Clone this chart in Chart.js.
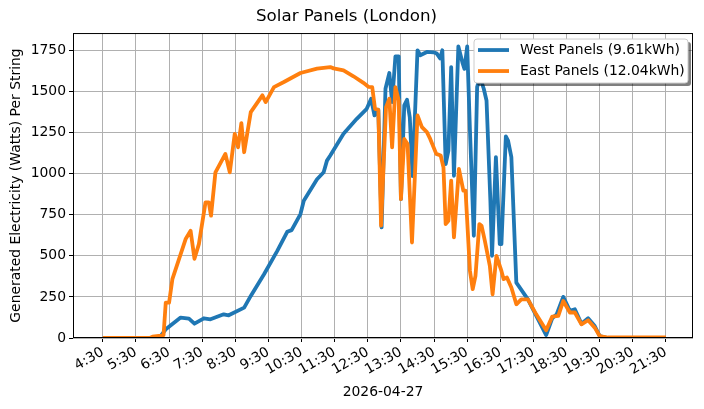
<!DOCTYPE html>
<html>
<head>
<meta charset="utf-8">
<script src="https://cdn.jsdelivr.net/npm/chart.js@4"></script>
<style>
html, body { margin: 0; padding: 0; background: #fff; }
</style>
</head>
<body>
<canvas id="grafico" width="704" height="409"></canvas>
<script>
// readings, time of day -> watts
const westTimes = ['4:30', '6:12', '6:24', '6:51', '7:06', '7:16', '7:33', '7:45', '8:09', '8:18', '8:46', '8:58',
    '9:22', '9:46', '10:04', '10:12', '10:28', '10:34', '10:58', '11:10', '11:16', '11:22', '11:46', '12:10',
    '12:28', '12:36', '12:42', '12:49', '12:55', '13:02', '13:09', '13:14', '13:20', '13:26', '13:30', '13:36',
    '13:41', '13:46', '13:51', '14:00', '14:05', '14:17', '14:29', '14:35', '14:41', '14:45', '14:51', '14:56',
    '15:01', '15:06', '15:14', '15:22', '15:25', '15:30', '15:35', '15:42', '15:48', '15:53', '16:00', '16:05',
    '16:12', '16:15', '16:22', '16:29', '16:32', '16:40', '16:44', '16:50', '16:59', '17:20', '17:53', '18:04',
    '18:12', '18:24', '18:36', '18:45', '18:57', '19:09', '19:21', '19:30', '19:45', '21:30'];
const westWatts = [0, 0, 53, 124, 118, 87, 120, 114, 144, 138, 185, 256,
    388, 530, 646, 656, 754, 835, 966, 1008, 1079, 1110, 1242, 1333,
    1394, 1455, 1354, 1388, 673, 1516, 1612, 1435, 1713, 1713, 845, 1415,
    1449, 1343, 985, 1750, 1720, 1740, 1738, 1730, 1700, 1750, 1058, 1140,
    1648, 987, 1774, 1668, 1637, 1774, 1262, 622, 1526, 1587, 1516, 1445,
    835, 500, 1100, 571, 571, 1226, 1200, 1100, 337, 235, 18, 120,
    144, 250, 165, 175, 87, 120, 73, 12, 0, 0];

const eastTimes = ['4:30', '5:55', '6:00', '6:15', '6:20', '6:24', '6:30', '6:36', '7:00', '7:09', '7:16', '7:24',
    '7:36', '7:42', '7:46', '7:54', '8:12', '8:20', '8:29', '8:35', '8:41', '8:46', '8:58', '9:19',
    '9:25', '9:40', '9:58', '10:28', '10:58', '11:22', '11:28', '11:46', '12:04', '12:22', '12:31', '12:38',
    '12:43', '12:49', '12:54', '13:03', '13:09', '13:14', '13:20', '13:26', '13:30', '13:36', '13:42', '13:50',
    '14:00', '14:08', '14:17', '14:23', '14:34', '14:42', '14:47', '14:51', '14:56', '15:01', '15:06', '15:15',
    '15:23', '15:27', '15:35', '15:40', '15:45', '15:52', '15:56', '16:02', '16:11', '16:16', '16:23', '16:32',
    '16:36', '16:42', '16:50', '16:59', '17:08', '17:20', '17:35', '17:53', '18:04', '18:15', '18:24', '18:36',
    '18:45', '18:57', '19:09', '19:21', '19:30', '19:45', '21:30'];
const eastWatts = [0, 0, 8, 15, 18, 215, 215, 358, 602, 652, 482, 571,
    825, 825, 744, 1008, 1120, 1008, 1242, 1160, 1307, 1130, 1374, 1476,
    1435, 1526, 1557, 1612, 1638, 1648, 1640, 1628, 1592, 1552, 1528, 1526,
    1394, 1388, 683, 1404, 1455, 1160, 1526, 1445, 845, 1211, 1180, 581,
    1354, 1283, 1252, 1211, 1120, 1110, 1039, 693, 713, 957, 612, 1028,
    896, 896, 408, 297, 378, 693, 683, 591, 439, 266, 500, 408,
    358, 368, 307, 205, 235, 235, 144, 47, 130, 134, 225, 155,
    155, 83, 108, 63, 12, 3, 3];

const xTickLabels = ['4:30', '5:30', '6:30', '7:30', '8:30', '9:30', '10:30', '11:30', '12:30',
    '13:30', '14:30', '15:30', '16:30', '17:30', '18:30', '19:30', '20:30', '21:30'];
const yTickValues = [0, 250, 500, 750, 1000, 1250, 1500, 1750];

const FONT = 'DejaVu Sans';

function toMinutes(s) {
    const p = s.split(':');
    return Number(p[0]) * 60 + Number(p[1]);
}

function points(times, watts) {
    return times.map((t, i) => ({ x: toMinutes(t), y: watts[i] }));
}

function roundRect(ctx, x, y, w, h, r) {
    ctx.beginPath();
    ctx.moveTo(x + r, y);
    ctx.arcTo(x + w, y, x + w, y + h, r);
    ctx.arcTo(x + w, y + h, x, y + h, r);
    ctx.arcTo(x, y + h, x, y, r);
    ctx.arcTo(x, y, x + w, y, r);
    ctx.closePath();
}

// frame round the plot + matplotlib style legend inside it
const frameAndLegend = {
    id: 'frameAndLegend',
    afterDraw(chart) {
        const ctx = chart.ctx;
        const a = chart.chartArea;
        ctx.save();
        ctx.strokeStyle = '#000';
        ctx.lineWidth = 1;
        ctx.strokeRect(a.left + 0.5, a.top + 0.5, a.right - a.left - 1, a.bottom - a.top - 1);

        const w = 214, h = 44;
        const x = a.right - 5 - w, y = a.top + 6;
        ctx.fillStyle = 'rgba(0,0,0,0.5)';
        roundRect(ctx, x + 3, y + 3, w, h, 3);
        ctx.fill();
        ctx.fillStyle = '#fff';
        roundRect(ctx, x, y, w, h, 3);
        ctx.fill();
        ctx.strokeStyle = '#cccccc';
        ctx.stroke();

        ctx.font = '13.9px "' + FONT + '"';
        ctx.textBaseline = 'middle';
        chart.data.datasets.forEach((ds, i) => {
            const ly = y + 11 + i * 21;
            ctx.strokeStyle = ds.borderColor;
            ctx.lineWidth = ds.borderWidth;
            ctx.beginPath();
            ctx.moveTo(x + 4, ly);
            ctx.lineTo(x + 35, ly);
            ctx.stroke();
            ctx.fillStyle = '#000';
            ctx.fillText(ds.label, x + 46, ly);
        });
        ctx.restore();
    }
};

new Chart(document.getElementById('grafico'), {
    type: 'line',
    data: {
        datasets: [{
            label: 'West Panels (9.61kWh)',
            data: points(westTimes, westWatts),
            borderColor: '#1f77b4',
            backgroundColor: '#1f77b4',
            borderWidth: 3.8,
            order: 1
        }, {
            label: 'East Panels (12.04kWh)',
            data: points(eastTimes, eastWatts),
            borderColor: '#ff7f0e',
            backgroundColor: '#ff7f0e',
            borderWidth: 3.8,
            order: 0
        }]
    },
    options: {
        responsive: false,
        animation: false,
        devicePixelRatio: 1,
        layout: { padding: { left: 0, right: 11, top: 0, bottom: 0 } },
        elements: {
            point: { radius: 0 },
            line: { tension: 0, borderJoinStyle: 'round', borderCapStyle: 'butt' }
        },
        plugins: {
            legend: { display: false },
            tooltip: { enabled: false },
            title: {
                display: true,
                text: 'Solar Panels (London)',
                color: '#000',
                font: { family: FONT, size: 16.7, weight: 'normal', lineHeight: 1.2 },
                padding: { top: 7, bottom: 6 }
            }
        },
        scales: {
            x: {
                type: 'linear',
                min: 216,
                max: 1339,
                afterBuildTicks: scale => {
                    scale.ticks = xTickLabels.map(l => ({ value: toMinutes(l) }));
                },
                afterFit: scale => { scale.height = 71; },
                ticks: {
                    autoSkip: false,
                    minRotation: 30,
                    maxRotation: 30,
                    padding: 2,
                    color: '#000',
                    font: { family: FONT, size: 13.9 },
                    callback: (v, i) => xTickLabels[i]
                },
                grid: { color: '#b0b0b0', lineWidth: 1, tickColor: '#000', tickLength: 4 },
                border: { display: false },
                title: {
                    display: true,
                    text: '2026-04-27',
                    color: '#000',
                    font: { family: FONT, size: 13.9 },
                    padding: { top: 0, bottom: 8 }
                }
            },
            y: {
                min: 0,
                max: 1855,
                afterBuildTicks: scale => {
                    scale.ticks = yTickValues.map(v => ({ value: v }));
                },
                afterFit: scale => { scale.width = 73; },
                ticks: {
                    padding: 3,
                    color: '#000',
                    font: { family: FONT, size: 13.9 },
                    callback: v => String(v)
                },
                grid: { color: '#b0b0b0', lineWidth: 1, tickColor: '#000', tickLength: 4 },
                border: { display: false },
                title: {
                    display: true,
                    text: 'Generated Electricity (Watts) Per String',
                    color: '#000',
                    font: { family: FONT, size: 13.9 },
                    padding: { top: 8, bottom: 0 }
                }
            }
        }
    },
    plugins: [frameAndLegend]
});
</script>
</body>
</html>
